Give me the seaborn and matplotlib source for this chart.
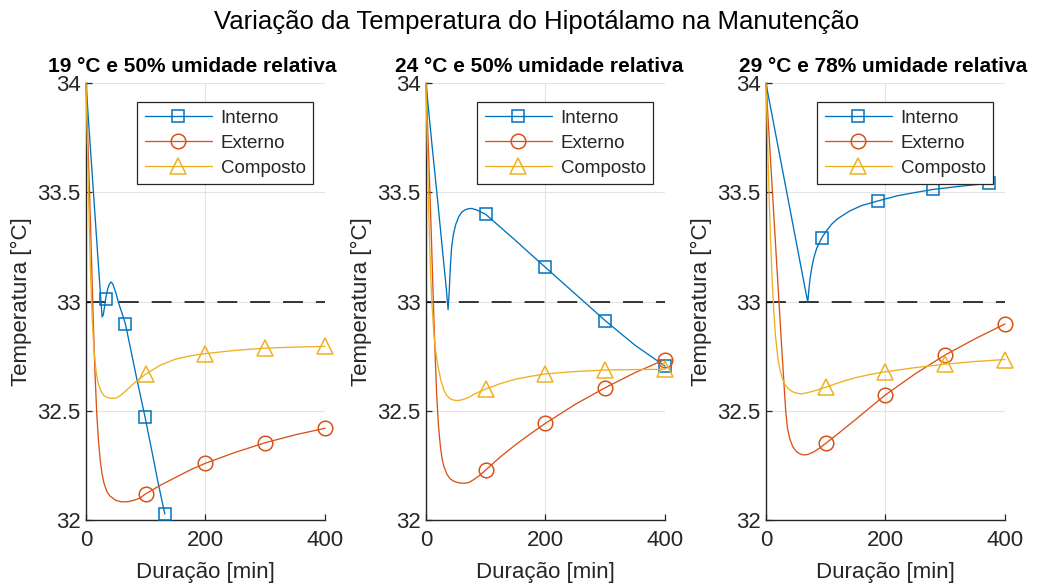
import matplotlib
matplotlib.use("Agg")
import matplotlib.pyplot as plt
import seaborn as sns

# ---------------- data ----------------
fig_title = "Variação da Temperatura do Hipotálamo na Manutenção"
cond_titles = ["19 °C e 50% umidade relativa",
               "24 °C e 50% umidade relativa",
               "29 °C e 78% umidade relativa"]
series_names = ["Interno", "Externo", "Composto"]
x_label = "Duração [min]"
y_label = "Temperatura [°C]"
x_ticks = [0, 200, 400]
y_ticks = [32, 32.5, 33, 33.5, 34]
y_tick_labels = ["32", "32.5", "33", "33.5", "34"]
reference_temp = 33.0

# 19 °C, 50 % RH
t_int_19 = [0, 5, 10, 15, 20, 25, 27, 29, 31, 33, 36, 39, 42, 45, 50, 55, 60, 66, 75, 85, 99, 110, 120, 132]
T_int_19 = [34, 33.80, 33.60, 33.40, 33.20, 33.005, 32.93, 32.94, 32.975, 33.014, 33.055, 33.08, 33.09,
            33.08, 33.04, 32.99, 32.95, 32.898, 32.78, 32.647, 32.47, 32.32, 32.18, 32.027]
mk_int_19 = [33, 66, 99, 132]

t_ext_19 = [0, 3, 6, 9, 12, 15, 18, 21, 24, 27, 30, 35, 40, 50, 60, 70, 80, 90, 100, 125, 150, 175, 200,
            250, 300, 350, 400]
T_ext_19 = [34, 33.75, 33.5, 33.22, 32.93, 32.68, 32.49, 32.36, 32.27, 32.21, 32.17, 32.13, 32.11, 32.09,
            32.083, 32.084, 32.09, 32.10, 32.12, 32.16, 32.195, 32.23, 32.26, 32.31, 32.354, 32.39, 32.42]
mk_ext_19 = [100, 200, 300, 400]

t_cmp_19 = [0, 2, 4, 6, 8, 10, 12, 14, 17, 20, 25, 30, 35, 40, 46, 52, 60, 70, 80, 90, 100, 125, 150, 175,
            200, 250, 300, 350, 400]
T_cmp_19 = [34, 33.76, 33.52, 33.3, 33.1, 32.95, 32.84, 32.76, 32.68, 32.63, 32.59, 32.57, 32.562, 32.558,
            32.557, 32.56, 32.575, 32.60, 32.625, 32.647, 32.668, 32.71, 32.737, 32.752, 32.762, 32.777,
            32.787, 32.792, 32.795]
mk_cmp_19 = [100, 200, 300, 400]

# 24 °C, 50 % RH
t_int_24 = [0, 5, 10, 15, 20, 25, 30, 34, 37, 39, 41, 43, 46, 50, 55, 60, 65, 70, 76, 85, 100, 125, 150, 175,
            200, 250, 300, 350, 400]
T_int_24 = [34, 33.86, 33.72, 33.585, 33.45, 33.31, 33.17, 33.06, 32.963, 33.05, 33.17, 33.25, 33.31, 33.355,
            33.39, 33.41, 33.42, 33.425, 33.427, 33.42, 33.40, 33.34, 33.28, 33.218, 33.157, 33.035, 32.913,
            32.80, 32.705]
mk_int_24 = [100, 200, 300, 400]

t_ext_24 = [0, 3, 6, 9, 12, 15, 18, 21, 24, 27, 30, 35, 40, 45, 50, 56, 64, 72, 80, 90, 100, 125, 150, 175,
            200, 250, 300, 350, 400]
T_ext_24 = [34, 33.78, 33.55, 33.3, 33.03, 32.78, 32.57, 32.43, 32.34, 32.28, 32.245, 32.21, 32.19, 32.18,
            32.174, 32.17, 32.168, 32.172, 32.185, 32.205, 32.229, 32.29, 32.345, 32.395, 32.443, 32.53,
            32.606, 32.675, 32.735]
mk_ext_24 = [100, 200, 300, 400]

t_cmp_24 = [0, 2, 4, 6, 8, 10, 13, 16, 20, 25, 30, 35, 40, 45, 51, 60, 70, 80, 90, 100, 125, 150, 175, 200,
            250, 300, 350, 400]
T_cmp_24 = [34, 33.74, 33.49, 33.28, 33.12, 32.99, 32.86, 32.78, 32.705, 32.64, 32.595, 32.57, 32.556, 32.55,
            32.547, 32.55, 32.56, 32.575, 32.588, 32.6, 32.625, 32.645, 32.658, 32.669, 32.68, 32.687,
            32.689, 32.69]
mk_cmp_24 = [100, 200, 300, 400]

# 29 °C, 78 % RH
t_int_29 = [0, 20, 40, 60, 66, 70, 71, 72, 74, 77, 80, 85, 93, 100, 110, 120, 140, 160, 187, 220, 250, 280,
            320, 373]
T_int_29 = [34, 33.713, 33.426, 33.139, 33.053, 32.998, 33.03, 33.06, 33.11, 33.16, 33.2, 33.245, 33.29,
            33.32, 33.355, 33.38, 33.415, 33.44, 33.461, 33.485, 33.5, 33.514, 33.527, 33.542]
mk_int_29 = [93, 187, 280, 373]

t_ext_29 = [0, 5, 10, 15, 20, 25, 30, 33, 36, 40, 45, 50, 56, 63, 70, 80, 90, 100, 125, 150, 175, 200, 250,
            300, 350, 400]
T_ext_29 = [34, 33.77, 33.54, 33.31, 33.08, 32.85, 32.63, 32.5, 32.42, 32.37, 32.335, 32.316, 32.304, 32.298,
            32.3, 32.312, 32.33, 32.351, 32.405, 32.46, 32.517, 32.573, 32.67, 32.756, 32.83, 32.898]
mk_ext_29 = [100, 200, 300, 400]

t_cmp_29 = [0, 2, 4, 6, 8, 10, 13, 16, 20, 24, 28, 32, 36, 40, 45, 50, 58, 65, 75, 85, 100, 125, 150, 175,
            200, 250, 300, 350, 400]
T_cmp_29 = [34, 33.8, 33.6, 33.42, 33.26, 33.12, 32.96, 32.84, 32.74, 32.68, 32.645, 32.62, 32.605, 32.595,
            32.587, 32.582, 32.578, 32.58, 32.587, 32.595, 32.608, 32.632, 32.652, 32.667, 32.679, 32.698,
            32.714, 32.726, 32.735]
mk_cmp_29 = [100, 200, 300, 400]

panels = [
    [(t_int_19, T_int_19, mk_int_19), (t_ext_19, T_ext_19, mk_ext_19), (t_cmp_19, T_cmp_19, mk_cmp_19)],
    [(t_int_24, T_int_24, mk_int_24), (t_ext_24, T_ext_24, mk_ext_24), (t_cmp_24, T_cmp_24, mk_cmp_24)],
    [(t_int_29, T_int_29, mk_int_29), (t_ext_29, T_ext_29, mk_ext_29), (t_cmp_29, T_cmp_29, mk_cmp_29)],
]

# ---------------- style ----------------
colors = ["#0072BD", "#D95319", "#EDB120"]
markers = ["s", "o", "^"]
marker_sizes = [8, 10.5, 11]
ink = "#262626"

sns.set_theme(style="ticks")
plt.rcParams["font.family"] = ["Liberation Sans", "DejaVu Sans"]
plt.rcParams["text.color"] = ink
plt.rcParams["axes.labelcolor"] = ink
plt.rcParams["xtick.color"] = ink
plt.rcParams["ytick.color"] = ink

fig = plt.figure(figsize=(10.51, 5.85), dpi=100)
fig.patch.set_facecolor("white")

lefts = [0.0818, 0.4053, 0.7288]
title_x = [0.443, 0.473, 0.492]
bottom, width, height = 0.1111, 0.2274, 0.7465

for p, (left, cond, series) in enumerate(zip(lefts, cond_titles, panels)):
    ax = fig.add_axes([left, bottom, width, height])
    ax.set_facecolor("white")
    ax.axhline(reference_temp, color="black", lw=1.1, ls=(0, (13, 8.5)), zorder=1.5)

    for k, (t, T, mk) in enumerate(series):
        idx = [t.index(m) for m in mk]
        sns.lineplot(x=t, y=T, ax=ax, color=colors[k], linewidth=0.95,
                     marker=markers[k], markevery=idx, markersize=marker_sizes[k],
                     markerfacecolor="none", markeredgecolor=colors[k],
                     markeredgewidth=1.1, label=series_names[k], clip_on=False, zorder=3)

    ax.set_xlim(0, 400)
    ax.set_ylim(32, 34)
    ax.set_xticks(x_ticks)
    ax.set_yticks(y_ticks)
    ax.set_yticklabels(y_tick_labels)
    ax.grid(True, color="#E3E3E3", linewidth=0.8)
    ax.set_axisbelow(True)
    for side in ("top", "right"):
        ax.spines[side].set_visible(False)
    for side in ("left", "bottom"):
        ax.spines[side].set_color(ink)
        ax.spines[side].set_linewidth(1.0)
    ax.tick_params(direction="in", length=4, width=0.9, labelsize=16)
    ax.tick_params(axis="x", pad=7)
    ax.tick_params(axis="y", pad=4)

    ax.set_xlabel(x_label, fontsize=16, labelpad=8)
    ax.set_ylabel(y_label, fontsize=16, labelpad=4)
    ax.set_title(cond, fontsize=15, fontweight="bold", x=title_x[p], pad=8, color="black")

    leg = ax.legend(loc="upper right", bbox_to_anchor=(0.95, 0.957), borderaxespad=0,
                    fontsize=13.5, handlelength=3.6, handletextpad=0.45, borderpad=0.4,
                    labelspacing=0.42, fancybox=False, framealpha=1, edgecolor=ink)
    leg.get_frame().set_linewidth(0.9)

fig.text(0.511, 1 - 22 / 585, fig_title, ha="center", va="center", fontsize=18.5, color="black")

fig.savefig("out.png", dpi=100, facecolor="white")
